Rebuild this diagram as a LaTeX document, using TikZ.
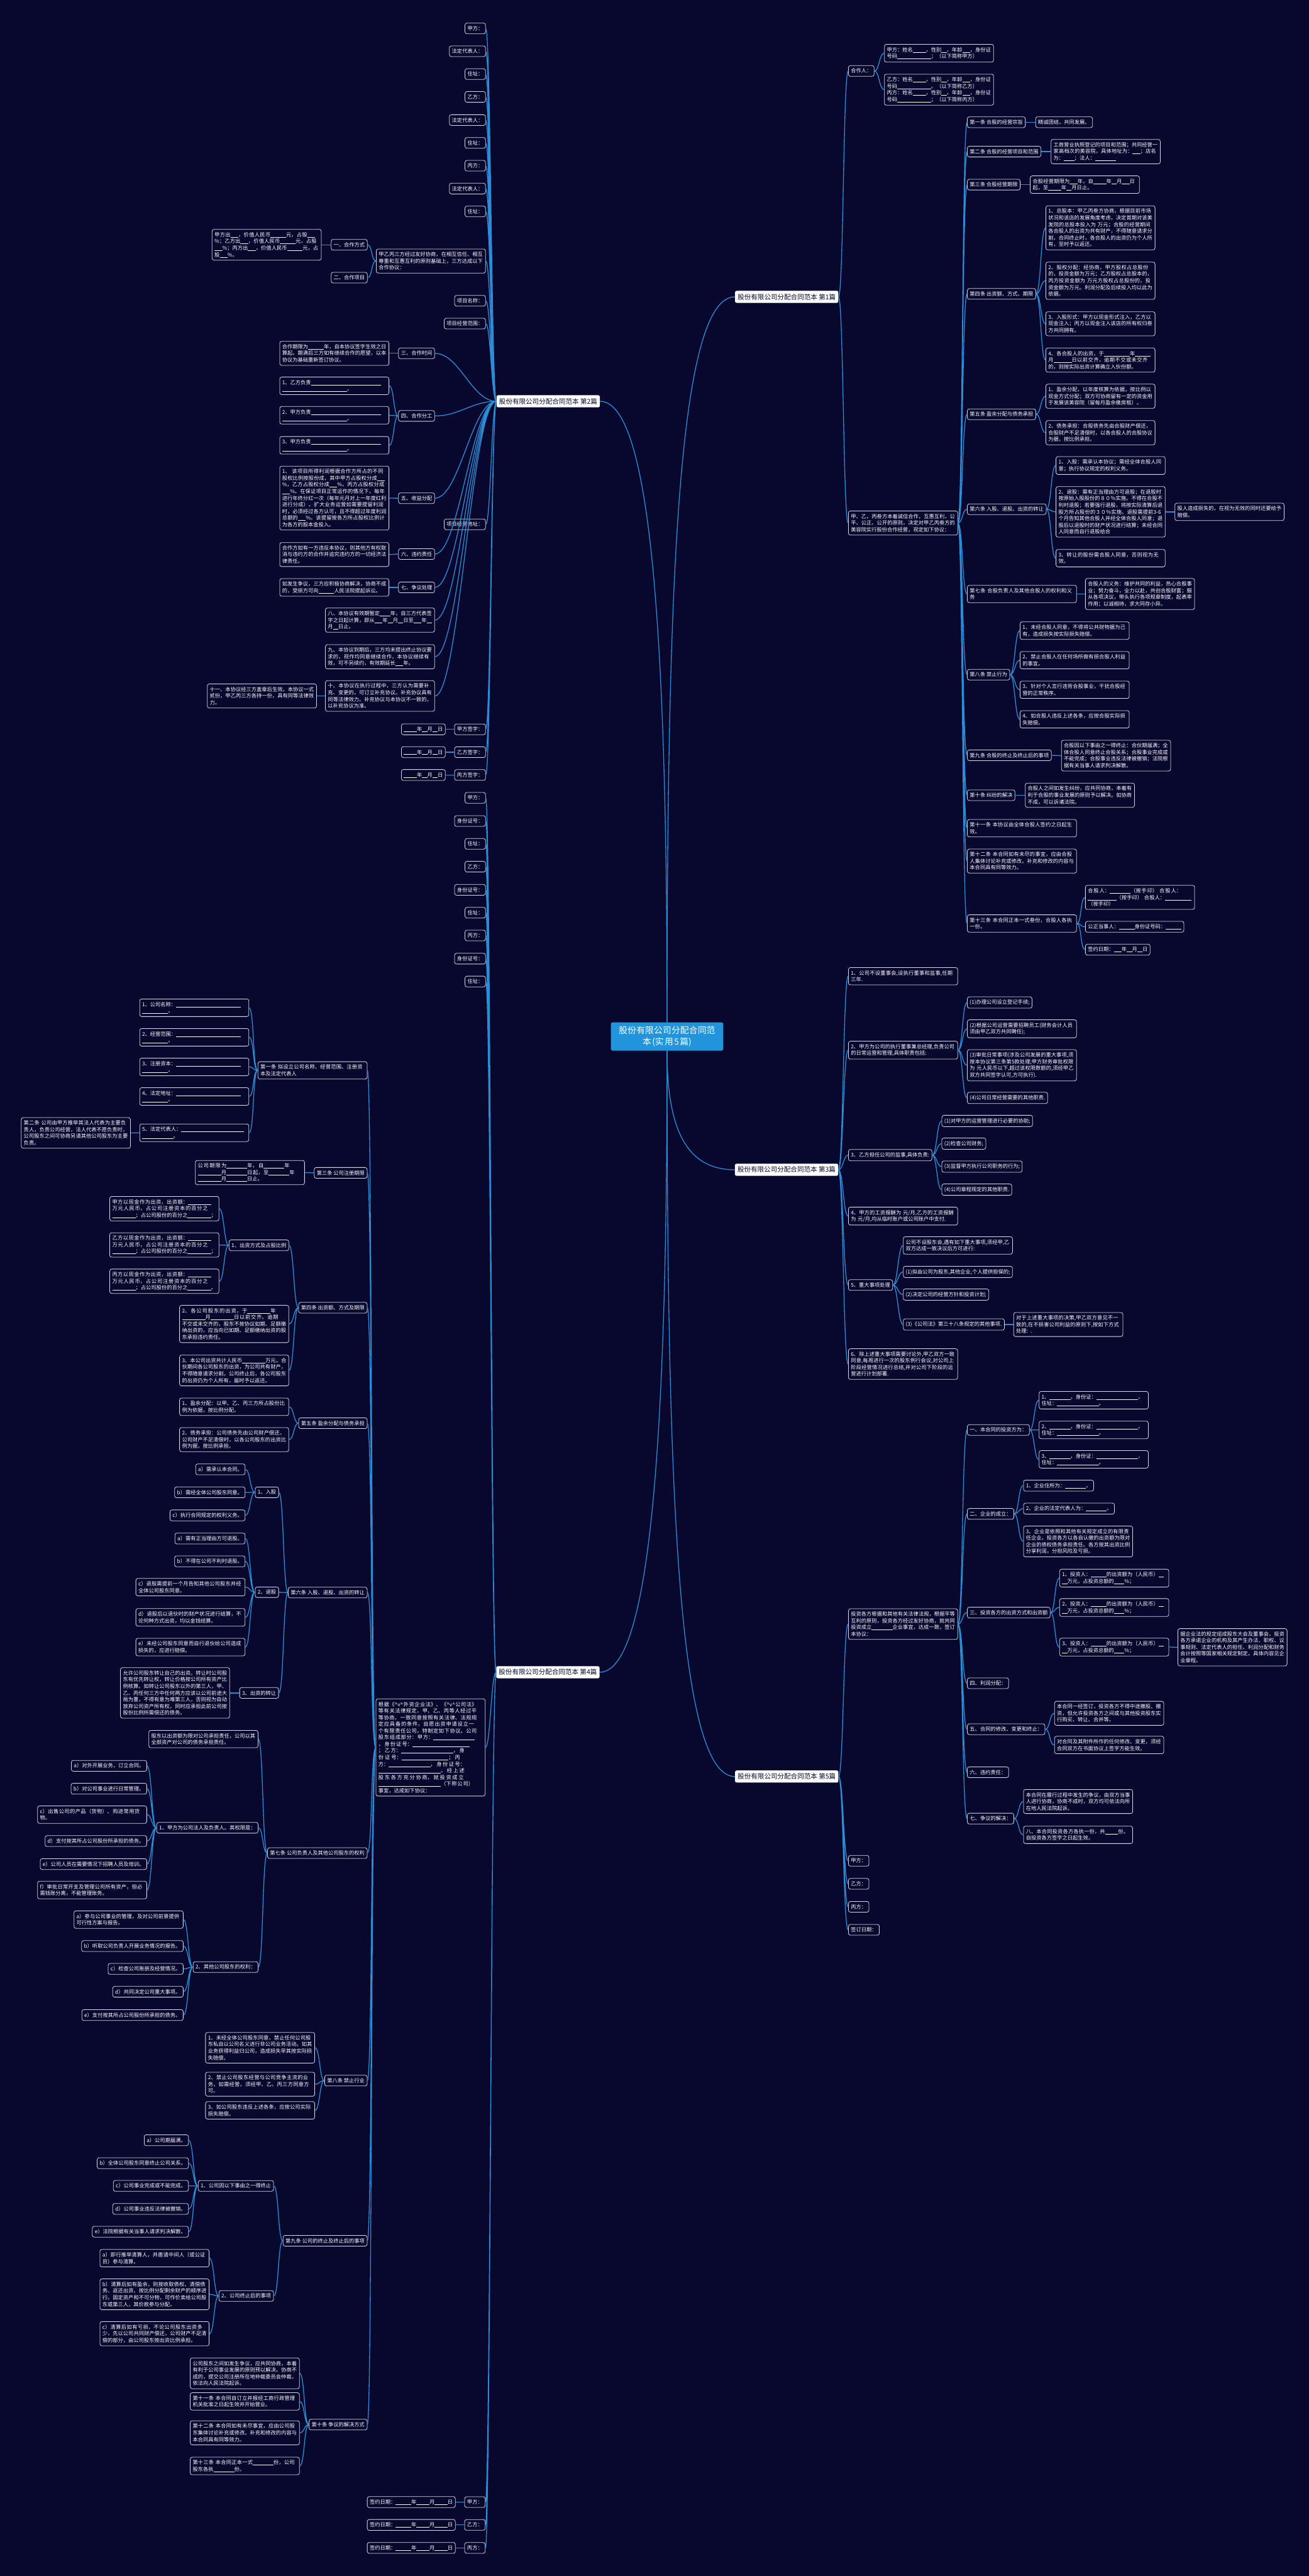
\documentclass[tikz,border=0pt]{standalone}
\usepackage{fontspec}
\setmainfont{Noto Sans CJK SC}
\XeTeXlinebreaklocale "zh"
\XeTeXlinebreakskip=0pt plus 1pt
\definecolor{bgc}{RGB}{8,7,46}
\definecolor{linkc}{RGB}{44,140,212}
\definecolor{rootc}{RGB}{34,148,219}
\definecolor{edgec}{RGB}{218,218,228}
\newcommand\bk[1]{\allowbreak\rule[-0.12em]{\dimexpr0.5em*#1\relax}{0.06em}\allowbreak}
\tikzset{
  leaf/.style={draw=edgec, line width=0.3mm, rounded corners=1.2mm, fill=bgc, text=white,
    inner xsep=1.5mm, inner ysep=1.8mm, font=\fontsize{9}{11.5}\selectfont},
  wide/.style={leaf, text width=63.5mm, align=left},
  topic/.style={fill=white, text=bgc, rounded corners=1mm, inner xsep=1.6mm, inner ysep=1.8mm,
    font=\fontsize{11.5}{14}\selectfont},
  rootnode/.style={fill=rootc, text=white, rounded corners=1mm, text width=62mm, align=center,
    inner xsep=3.2mm, inner ysep=2.5mm, font=\fontsize{15}{19}\selectfont},
  link/.style={draw=linkc, line width=0.5mm},
  rl/.style={to path={.. controls +(#1,0) and +(-#1,0) .. (\tikztotarget)}},
  rl/.default=3,
  ll/.style={to path={.. controls +(-#1,0) and +(#1,0) .. (\tikztotarget)}},
  ll/.default=3
}
\begin{document}
\begin{tikzpicture}[x=1mm, y=-1mm]
    \useasboundingbox (0,0) rectangle (797,1568.2);
    \fill[bgc] (0,0) rectangle (797,1568.2);

    % Root
    \node[rootnode] (r) at (406.2,631) {股份有限公司分配合同范\\本(实用5篇)};

    % 第1篇 (right, top)
    \node[topic, anchor=east] (a) at (510.6,180.7) {股份有限公司分配合同范本 第1篇};
    \node[leaf, anchor=west] (a1) at (516.5,43.2) {合作人：};
    \node[wide, anchor=west] (a1a) at (538.4,32.4) {甲方：姓名\bk5，性别\bk2，年龄\bk3，身份证号码\bk{13}；（以下简称甲方）};
    \node[wide, anchor=west] (a1b) at (538.4,54.6) {乙方：姓名\bk5，性别\bk2，年龄\bk3，身份证号码\bk{13}。（以下简称乙方）\\丙方：姓名\bk5，性别\bk2，年龄\bk3，身份证号码\bk{13}；（以下简称丙方）};
    \node[wide, anchor=west] (a2) at (516.5,318.4) {甲、乙，丙叁方本着诚信合作，互惠互利，公平、公正、公开的原则，决定对甲乙丙叁方的美容院实行股份合作经营，现定如下协议：};

    \node[leaf, anchor=west] (a2s1) at (588.9,74.4) {第一条 合股的经营宗旨};
    \node[leaf, anchor=west] (a2s1c) at (630.5,74.4) {精诚团结，共同发展。};
    \node[leaf, anchor=west] (a2s2) at (588.9,92.3) {第二条 合股的经营项目和范围};
    \node[wide, anchor=west] (a2s2c) at (639.9,92.3) {工商营业执照登记的项目和范围；共同经营一家高档次的美容院，具体地址为：\bk3；店名为：\bk4；法人：\bk8};
    \node[leaf, anchor=west] (a2s3) at (588.9,112.4) {第三条 合股经营期限};
    \node[wide, anchor=west] (a2s3c) at (627.2,112.4) {合股经营期限为\bk3年，自\bk5年\bk2月\bk3日起，至\bk5年\bk2月日止。};
    \node[leaf, anchor=west] (a2s4) at (588.9,178.9) {第四条 出资额、方式、期限};
    \node[wide, anchor=west] (a2s4a) at (636.7,138.7) {1、总股本：甲乙丙叁方协商，根据目前市场状况和该店的发展角度考虑，决定首期对该美发院的总股本投入为 万元；合股的经营期间各合股人的出资为共有财产，不得随意请求分割，合同终止时，各合股人的出资仍为个人所有，至时予以返还。};
    \node[wide, anchor=west] (a2s4b) at (636.7,170.9) {2、股权分配：经协商，甲方股权占总股份的，投资金额为万元；乙方股权占总股本的，丙方投资金额为 万元方股权占总股份的，投资金额为万元。利润分配及后续投入均以此为依据。};
    \node[wide, anchor=west] (a2s4c) at (636.7,197.1) {3、入股形式：甲方以现金形式注入，乙方以现金注入；丙方以现金注入该店的所有权归叁方共同拥有。};
    \node[wide, anchor=west] (a2s4d) at (636.7,219.2) {4、各合股人的出资，于\bk{10}年\bk6月\bk7日以前交齐，逾期不交或未交齐的，则按实际出资计算确立入伙份额。};
    \node[leaf, anchor=west] (a2s5) at (588.9,252.2) {第五条 盈余分配与债务承担};
    \node[wide, anchor=west] (a2s5a) at (636.7,241.2) {1、盈余分配，以年度核算为依据，按比例以现金方式分配；双方可协商留有一定的资金用于发展该美容院（留每月盈余缴房租）。};
    \node[wide, anchor=west] (a2s5b) at (636.7,263.4) {2、债务承担：合股债务先由合股财产偿还，合股财产不足清偿时，以各合股人的合股协议为据，按比例承担。};
    \node[leaf, anchor=west] (a2s6) at (588.9,310) {第六条 入股、退股、出资的转让};
    \node[wide, anchor=west] (a2s6a) at (642.9,283.4) {1、入股：需承认本协议；需经全体合股人同意；执行协议规定的权利义务。};
    \node[wide, anchor=west] (a2s6b) at (642.9,311.6) {2、退股：需有正当理由方可退股；在退股时按原始入股股份的８０％实施。不得在合股不利时退股；若要强行退股，将按实际清算后退股方所占股份的３０％实施。退股需提前3-6个月告知其他合股人并经全体合股人同意；退股后以退股时的财产状况进行结算；未经合同人同意而自行退股给合};
    \node[wide, anchor=west] (a2s6bx) at (715.3,311.6) {股人造成损失的，在视为无效的同时还要给予赔偿。};
    \node[wide, anchor=west] (a2s6c) at (642.9,339.8) {3、转让的股份需合股人同意，否则视为无效。};
    \node[wide, anchor=west] (a2s7) at (588.9,361.6) {第七条 合股负责人及其他合股人的权利和义务};
    \node[wide, anchor=west] (a2s7c) at (660.8,361.6) {合股人的义务：维护共同的利益，热心合股事业；努力奋斗，全力以赴，共创合股财富；服从各项决议，带头执行各项规章制度，起表率作用；以诚相待，求大同存小异。};
    \node[leaf, anchor=west] (a2s8) at (588.9,410.7) {第八条 禁止行为};
    \node[wide, anchor=west] (a2s8a) at (621,383.9) {1、未经合股人同意，不得将公共财物据为己有，造成损失按实际损失赔偿。};
    \node[wide, anchor=west] (a2s8b) at (621,401.9) {2、禁止合股人在任何场所做有损合股人利益的事宜。};
    \node[wide, anchor=west] (a2s8c) at (621,419.9) {3、针对个人言行违背合股事业，干扰合股经营的正常秩序。};
    \node[wide, anchor=west] (a2s8d) at (621,437.9) {4、如合股人违反上述各条，应按合股实际损失赔偿。};
    \node[leaf, anchor=west] (a2s9) at (588.9,459.8) {第九条 合股的终止及终止后的事项};
    \node[wide, anchor=west] (a2s9c) at (646.2,460) {合股因以下事由之一得终止：合伙期届满；全体合股人同意终止合股关系；合股事业完成或不能完成；合股事业违反法律被撤销；法院根据有关当事人请求判决解散。};
    \node[leaf, anchor=west] (a2s10) at (588.9,484.1) {第十条 纠纷的解决};
    \node[wide, anchor=west] (a2s10c) at (624.2,484.1) {合股人之间如发生纠纷，应共同协商，本着有利于合股的事业发展的原则予以解决。如协商不成，可以诉诸法院。};
    \node[wide, anchor=west] (a2s11) at (588.9,504.2) {第十一条 本协议由全体合股人签约之日起生效。};
    \node[wide, anchor=west] (a2s12) at (588.9,524.2) {第十二条 本合同如有未尽的事宜，应由合股人集体讨论补充或修改。补充和修改的内容与本合同具有同等效力。};
    \node[wide, anchor=west] (a2s13) at (588.9,562.2) {第十三条 本合同正本一式叁份，合股人各执一份。};
    \node[wide, anchor=west] (a2s13a) at (660.8,546.3) {合股人：\bk8（按手印） 合股人：\bk{11}（按手印） 合股人：\bk{10}（按手印）};
    \node[leaf, anchor=west] (a2s13b) at (660.8,564.2) {公正当事人：\bk6身份证号码：\bk6};
    \node[leaf, anchor=west] (a2s13c) at (660.8,578.1) {签约日期：\bk3年\bk2月\bk2日};

    % 第2篇 (left, top)
    \node[topic, anchor=west] (b) at (302.3,244.3) {股份有限公司分配合同范本 第2篇};
    \node[leaf, anchor=east] (b1) at (295.8,17.3) {甲方：};
    \node[leaf, anchor=east] (b2) at (295.8,31.2) {法定代表人：};
    \node[leaf, anchor=east] (b3) at (295.8,45.1) {住址：};
    \node[leaf, anchor=east] (b4) at (295.8,59) {乙方：};
    \node[leaf, anchor=east] (b5) at (295.8,73.1) {法定代表人：};
    \node[leaf, anchor=east] (b6) at (295.8,87) {住址：};
    \node[leaf, anchor=east] (b7) at (295.8,100.9) {丙方：};
    \node[leaf, anchor=east] (b8) at (295.8,114.8) {法定代表人：};
    \node[leaf, anchor=east] (b9) at (295.8,128.7) {住址：};
    \node[wide, anchor=east] (b10) at (295.8,158.9) {甲乙丙三方经过友好协商，在相互信任、相互尊重和互惠互利的原则基础上，三方达成以下合作协议：};
    \node[leaf, anchor=east] (b10a) at (223.8,149) {一、合作方式};
    \node[wide, anchor=east] (b10ax) at (195.8,149) {甲方出\bk3，价值人民币\bk6元，占股\bk3\%；乙方出\bk3，价值人民币\bk6元，占股\bk3\%；丙方出\bk3，价值人民币\bk6元，占股\bk3\%。};
    \node[leaf, anchor=east] (b10b) at (223.8,169) {二、合作项目};
    \node[leaf, anchor=east] (b11) at (295.8,183.1) {项目名称：};
    \node[leaf, anchor=east] (b12) at (295.8,197) {项目经营范围：};
    \node[leaf, anchor=east] (b13) at (264.8,215.1) {三、合作时间};
    \node[wide, anchor=east] (b13x) at (237,215.1) {合作期限为\bk6年，自本协议签字生效之日算起。期满后三方如有继续合作的愿望，以本协议为基础重新签订协议。};
    \node[leaf, anchor=east] (b14) at (264.8,253.2) {四、合作分工};
    \node[wide, anchor=east] (b14a) at (237,234.9) {1、乙方负责\bk{27}\\\bk{25}。};
    \node[wide, anchor=east] (b14b) at (237,252.8) {2、甲方负责\bk{27}\\\bk{25}。};
    \node[wide, anchor=east] (b14c) at (237,271.1) {3、甲方负责\bk{27}\\\bk{25}。};
    \node[leaf, anchor=east] (b15) at (264.8,303.3) {五、收益分配};
    \node[wide, anchor=east] (b15x) at (237,303.2) {1、 该项目所得利润根据合作方所占的不同股权比例按股份成，其中甲方占股权分成\bk3\%，乙方占股权分成\bk3\%，丙方占股权分成\bk3\%。在保证项目正常运作的情况下，每年进行年终分红一次（每年元月对上一年度红利进行分成）。扩大业务运营如需要提留利润时，必须经过各方认可，且不得超过年度利润总额的\bk3\%。该提留按各方所占股权比例计为各方的股本金投入。};
    \node[leaf, anchor=east] (b16) at (295.8,319.2) {项目经营地址：};
    \node[leaf, anchor=east] (b17) at (264.8,337.3) {六、违约责任};
    \node[wide, anchor=east] (b17x) at (237,337.6) {合作方如有一方违反本协议，则其他方有权取消与违约方的合作并追究违约方的一切经济法律责任。};
    \node[leaf, anchor=east] (b18) at (264.8,357.6) {七、争议处理};
    \node[wide, anchor=east] (b18x) at (237,357.6) {如发生争议，三方应积极协商解决，协商不成的，受损方可向\bk6人民法院提起诉讼。};
    \node[wide, anchor=east] (b19) at (264.8,377.5) {八、本协议有效期暂定\bk4年，自三方代表签字之日起计算，即从\bk3年\bk2月\bk2日至\bk3年\bk2月\bk2日止。};
    \node[wide, anchor=east] (b20) at (264.8,399.8) {九、本协议到期后，三方均未提出终止协议要求的，视作均同意继续合作，本协议继续有效，可不另续约，有效期延长\bk3年。};
    \node[wide, anchor=east] (b21) at (264.8,423.7) {十、本协议在执行过程中，三方认为需要补充、变更的，可订立补充协议。补充协议具有同等法律效力。补充协议与本协议不一致的，以补充协议为准。};
    \node[wide, anchor=east] (b21x) at (192.9,423.7) {十一、本协议经三方盖章后生效。本协议一式贰份，甲乙丙三方各持一份，具有同等法律效力。};
    \node[leaf, anchor=east] (b22) at (295.8,444) {甲方签字：};
    \node[leaf, anchor=east] (b22x) at (271.3,444) {\bk5年\bk2月\bk2日};
    \node[leaf, anchor=east] (b23) at (295.8,457.9) {乙方签字：};
    \node[leaf, anchor=east] (b23x) at (271.3,457.9) {\bk5年\bk2月\bk2日};
    \node[leaf, anchor=east] (b24) at (295.8,471.8) {丙方签字：};
    \node[leaf, anchor=east] (b24x) at (271.3,471.8) {\bk5年\bk2月\bk2日};

    % 第3篇 (right, middle)
    \node[topic, anchor=east] (c) at (510.5,712.1) {股份有限公司分配合同范本 第3篇};
    \node[wide, anchor=west] (c1) at (516.5,594.3) {1、公司不设董事会,设执行董事和监事,任期三年.};
    \node[wide, anchor=west] (c2) at (516.5,639.3) {2、甲方为公司的执行董事兼总经理,负责公司的日常运营和管理,具体职责包括:};
    \node[leaf, anchor=west] (c2a) at (588.9,610.3) {(1)办理公司设立登记手续;};
    \node[wide, anchor=west] (c2b) at (588.9,626.3) {(2)根据公司运营需要招聘员工(财务会计人员须由甲乙双方共同聘任);};
    \node[wide, anchor=west] (c2c) at (588.9,648.5) {(3)审批日常事项(涉及公司发展的重大事项,须按本协议第三条第5款处理;甲方财务审批权限为 元人民币以下,超过该权限数额的,须经甲乙双方共同签字认可,方可执行).};
    \node[leaf, anchor=west] (c2d) at (588.9,668.4) {(4)公司日常经营需要的其他职责.};
    \node[leaf, anchor=west] (c3) at (516.5,703.2) {3、乙方担任公司的监事,具体负责:};
    \node[leaf, anchor=west] (c3a) at (573.4,682.4) {(1)对甲方的运营管理进行必要的协助;};
    \node[leaf, anchor=west] (c3b) at (573.4,696.2) {(2)检查公司财务;};
    \node[leaf, anchor=west] (c3c) at (573.4,710.2) {(3)监督甲方执行公司职务的行为;};
    \node[leaf, anchor=west] (c3d) at (573.4,724.2) {(4)公司章程规定的其他职责.};
    \node[wide, anchor=west] (c4) at (516.5,740.3) {4、甲方的工资报酬为 元/月,乙方的工资报酬为 元/月,均从临时账户或公司账户中支付.};
    \node[leaf, anchor=west] (c5) at (516.5,782.3) {5、重大事项处理};
    \node[wide, anchor=west] (c5a) at (549.9,758.2) {公司不设股东会,遇有如下重大事项,须经甲,乙双方达成一致决议后方可进行:};
    \node[leaf, anchor=west] (c5b) at (549.9,774.3) {(1)拟由公司为股东,其他企业,个人提供担保的;};
    \node[leaf, anchor=west] (c5c) at (549.9,788.1) {(2)决定公司的经营方针和投资计划;};
    \node[leaf, anchor=west] (c5d) at (549.9,806.3) {(3)《公司法》第三十八条规定的其他事项.};
    \node[wide, anchor=west] (c5dx) at (617.1,806.3) {对于上述重大事项的决策,甲乙双方意见不一致的,在不损害公司利益的原则下,按如下方式处理: .};
    \node[wide, anchor=west] (c6) at (516.5,830.4) {6、除上述重大事项需要讨论外,甲乙双方一致同意,每周进行一次的股东例行会议,对公司上阶段经营情况进行总结,并对公司下阶段的运营进行计划部署.};

    % 第4篇 (left, bottom)
    \node[topic, anchor=west] (d) at (302.1,1018) {股份有限公司分配合同范本 第4篇};
    \node[leaf, anchor=east] (d1) at (295.8,485.7) {甲方：};
    \node[leaf, anchor=east] (d2) at (295.8,499.8) {身份证号：};
    \node[leaf, anchor=east] (d3) at (295.8,513.7) {住址：};
    \node[leaf, anchor=east] (d4) at (295.8,527.6) {乙方：};
    \node[leaf, anchor=east] (d5) at (295.8,541.7) {身份证号：};
    \node[leaf, anchor=east] (d6) at (295.8,555.6) {住址：};
    \node[leaf, anchor=east] (d7) at (295.8,569.5) {丙方：};
    \node[leaf, anchor=east] (d8) at (295.8,583.6) {身份证号：};
    \node[leaf, anchor=east] (d9) at (295.8,597.5) {住址：};
    \node[wide, anchor=east] (d10) at (295.6,1063.8) {根据《\textasciicircum v\textasciicircum 外资企业法》、《\textasciicircum v\textasciicircum 公司法》等有关法律规定，甲、乙、丙等人经过平等协商，一致同意按照有关法律、法规规定应具备的条件，自愿出资申请设立一个有限责任公司，特制定如下协议。公司股东组成部分：甲方：\bk{16}，身份证号：\bk{22}；乙方：\bk{20}，身份证号：\bk{18}；丙方：\bk{16}，身份证号：\bk{24}。经上述股东各方充分协商，就投资成立\bk{24}（下称公司）事宜，达成如下协议：};
    \node[leaf, anchor=east] (d11) at (295.6,1523.2) {甲方：};
    \node[leaf, anchor=east] (d11x) at (277.4,1523.2) {签约日期：\bk6年\bk5月\bk5日};
    \node[leaf, anchor=east] (d12) at (295.6,1537.1) {乙方：};
    \node[leaf, anchor=east] (d12x) at (277.4,1537.1) {签约日期：\bk6年\bk5月\bk5日};
    \node[leaf, anchor=east] (d13) at (295.6,1551.1) {丙方：};
    \node[leaf, anchor=east] (d13x) at (277.4,1551.1) {签约日期：\bk6年\bk5月\bk5日};

    \node[wide, anchor=east] (s1) at (223.7,651.6) {第一条 拟设立公司名称、经营范围、注册资本及法定代表人};
    \node[wide, anchor=east] (s1a) at (151.7,613.5) {1、公司名称：\bk{25}\\\bk{10}。};
    \node[wide, anchor=east] (s1b) at (151.7,631.5) {2、经营范围：\bk{25}\\\bk{10}。};
    \node[wide, anchor=east] (s1c) at (151.7,649.5) {3、注册资本：\bk{25}\\\bk{10}。};
    \node[wide, anchor=east] (s1d) at (151.7,667.5) {4、法定地址：\bk{25}\\\bk{10}。};
    \node[wide, anchor=east] (s1e) at (151.7,689.6) {5、法定代表人：\bk{24}\\\bk{12}。};
    \node[wide, anchor=east] (s1ex) at (79.6,689.7) {第二条 公司由甲方推举其法人代表为主要负责人，负责公司经营，法人代表不愿负责时，公司股东之间可协商另请其他公司股东为主要负责。};
    \node[leaf, anchor=east] (s3) at (223.7,714) {第三条 公司注册期限};
    \node[wide, anchor=east] (s3x) at (185.6,713.8) {公司期限为\bk8年，自\bk8年\bk9月\bk8日起，至\bk8年\bk9月\bk8日止。};
    \node[leaf, anchor=east] (s4) at (223.7,796.1) {第四条 出资额、方式及期限};
    \node[leaf, anchor=east] (s4a) at (176,758.1) {1、出资方式及占股比例};
    \node[wide, anchor=east] (s4a1) at (133.5,735.8) {甲方以现金作为出资，出资额：\bk9万元人民币，占公司注册资本的百分之\bk9；占公司股份的百分之\bk9；};
    \node[wide, anchor=east] (s4a2) at (133.5,757.9) {乙方以现金作为出资，出资额：\bk9万元人民币，占公司注册资本的百分之\bk9；占公司股份的百分之\bk9；};
    \node[wide, anchor=east] (s4a3) at (133.5,780) {丙方以现金作为出资，出资额：\bk9万元人民币，占公司注册资本的百分之\bk9；占公司股份的百分之\bk9。};
    \node[wide, anchor=east] (s4b) at (176,806) {2、各公司股东的出资，于\bk9年\bk9月\bk9日以前交齐。逾期不交或未交齐的，股东不按协议如期、足额缴纳出资的，应当向已如期、足额缴纳出资的股东承担违约责任。};
    \node[wide, anchor=east] (s4c) at (176,834.3) {3、本公司出资共计人民币\bk9万元。合伙期间各公司股东的出资，为公司共有财产，不得随意请求分割。公司终止后，各公司股东的出资仍为个人所有，届时予以返还。};
    \node[leaf, anchor=east] (s5) at (223.7,866.4) {第五条 盈余分配与债务承担};
    \node[wide, anchor=east] (s5a) at (176,856.4) {1、盈余分配：以甲、乙、丙三方所占股份比例为依据，按比例分配。};
    \node[wide, anchor=east] (s5b) at (176,876.4) {2、债务承担：公司债务先由公司财产偿还，公司财产不足清偿时，以各公司股东的出资比例为据，按比例承担。};
    \node[leaf, anchor=east] (s6) at (223.7,969.5) {第六条 入股、退股、出资的转让};
    \node[leaf, anchor=east] (s6a) at (169.8,908.5) {1、入股};
    \node[leaf, anchor=east] (s6a1) at (149.4,894.5) {a）需承认本合同。};
    \node[leaf, anchor=east] (s6a2) at (149.4,908.5) {b）需经全体公司股东同意。};
    \node[leaf, anchor=east] (s6a3) at (149.4,922.5) {c）执行合同规定的权利义务。};
    \node[leaf, anchor=east] (s6b) at (169.8,969.3) {2、退股};
    \node[leaf, anchor=east] (s6b1) at (149.4,936.6) {a）需有正当理由方可退股。};
    \node[leaf, anchor=east] (s6b2) at (149.4,950.5) {b）不得在公司不利时退股。};
    \node[wide, anchor=east] (s6b3) at (149.4,966.2) {c）退股需提前一个月告知其他公司股东并经全体公司股东同意。};
    \node[wide, anchor=east] (s6b4) at (149.4,984.6) {d）退股后以退伙时的财产状况进行结算，不论何种方式出资，均以金钱结算。};
    \node[wide, anchor=east] (s6b5) at (149.4,1002.7) {e）未经公司股东同意而自行退伙给公司造成损失的，应进行赔偿。};
    \node[leaf, anchor=east] (s6c) at (169.8,1030.6) {3、出资的转让};
    \node[wide, anchor=east] (s6cx) at (140,1030.6) {允许公司股东转让自己的出资。转让时公司股东有优先转让权，转让价格按公司所有资产比例核算。如转让公司股东以外的第三人，甲、乙、丙任何三方中任何两方应该以公司前途大局为重，不得有意为难第三人，否则视为自动放弃公司资产所有权，同时应承担此前公司按股份比例所需偿还的债务。};
    \node[leaf, anchor=east] (s7) at (223.7,1128.1) {第七条 公司负责人及其他公司股东的权利};
    \node[wide, anchor=east] (s7a) at (157.3,1058.7) {股东以出资额为限对公司承担责任，公司以其全部资产对公司的债务承担责任。};
    \node[leaf, anchor=east] (s7b) at (157.3,1112.7) {1、甲方为公司法人及负责人。其权限是：};
    \node[leaf, anchor=east] (s7b1) at (89.5,1075) {a）对外开展业务，订立合同。};
    \node[leaf, anchor=east] (s7b2) at (89.5,1088.9) {b）对公司事业进行日常管理。};
    \node[wide, anchor=east] (s7b3) at (89.5,1104.7) {c）出售公司的产品（货物）、购进常用货物。};
    \node[leaf, anchor=east] (s7b4) at (89.5,1120.8) {d）支付按其所占公司股份所承担的债务。};
    \node[leaf, anchor=east] (s7b5) at (89.5,1134.8) {e）公司人员在需要情况下招聘人员及培训。};
    \node[wide, anchor=east] (s7b6) at (89.5,1150.6) {f）审批日常开支及管理公司所有资产，但必需钱账分离，不能管理账务。};
    \node[leaf, anchor=east] (s7c) at (157.3,1197.5) {2、其他公司股东的权利：};
    \node[wide, anchor=east] (s7c1) at (111.7,1168.6) {a）参与公司事业的管理，及对公司前景提供可行性方案与报告。};
    \node[leaf, anchor=east] (s7c2) at (111.7,1184.7) {b）听取公司负责人开展业务情况的报告。};
    \node[leaf, anchor=east] (s7c3) at (111.7,1198.6) {c）检查公司账册及经营情况。};
    \node[leaf, anchor=east] (s7c4) at (111.7,1212.5) {d）共同决定公司重大事项。};
    \node[leaf, anchor=east] (s7c5) at (111.7,1226.7) {e）支付按其所占公司股份所承担的债务。};
    \node[leaf, anchor=east] (s8) at (223.7,1266.6) {第八条 禁止行业};
    \node[wide, anchor=east] (s8a) at (191.8,1246.6) {1、未经全体公司股东同意，禁止任何公司股东私自以公司名义进行非公司业务活动。如其业务获得利益归公司，造成损失早其按实际损失赔偿。};
    \node[wide, anchor=east] (s8b) at (191.8,1268.8) {2、禁止公司股东经营与公司竞争主流的业务，如需经营，须经甲、乙、丙三方同意方可。};
    \node[wide, anchor=east] (s8c) at (191.8,1284.7) {3、如公司股东违反上述各条，应按公司实际损失赔偿。};
    \node[leaf, anchor=east] (s9) at (223.7,1364.1) {第九条 公司的终止及终止后的事项};
    \node[leaf, anchor=east] (s9a) at (166.7,1330.7) {1、公司因以下事由之一得终止};
    \node[leaf, anchor=east] (s9a1) at (114.9,1302.9) {a）公司期届满。};
    \node[leaf, anchor=east] (s9a2) at (114.9,1316.9) {b）全体公司股东同意终止公司关系。};
    \node[leaf, anchor=east] (s9a3) at (114.9,1330.7) {c）公司事业完成或不能完成。};
    \node[leaf, anchor=east] (s9a4) at (114.9,1344.7) {d）公司事业违反法律被撤销。};
    \node[leaf, anchor=east] (s9a5) at (114.9,1358.6) {e）法院根据有关当事人请求判决解散。};
    \node[leaf, anchor=east] (s9b) at (166.7,1397.7) {2、公司终止后的事项};
    \node[wide, anchor=east] (s9b1) at (127.5,1374.7) {a）即行推举清算人，并邀请中间人（或公证员）参与清算。};
    \node[wide, anchor=east] (s9b2) at (127.5,1396.7) {b）清算后如有盈余，则按收取债权、清偿债务、返还出资、按比例分配剩余财产的顺序进行。固定资产和不可分物，可作价卖给公司股东或第三人，其价款参与分配。};
    \node[wide, anchor=east] (s9b3) at (127.5,1420.7) {c）清算后如有亏损，不论公司股东出资多少，先以公司共同财产偿还，公司财产不足清偿的部分，由公司股东按出资比例承担。};
    \node[leaf, anchor=east] (s10) at (223.7,1476) {第十条 争议的解决方式};
    \node[wide, anchor=east] (s10a) at (182.5,1444.8) {公司股东之间如发生争议，应共同协商，本着有利于公司事业发展的原则预以解决。协商不成的，提交公司注册所在地仲裁委员会仲裁，依法向人民法院起诉。};
    \node[wide, anchor=east] (s10b) at (182.5,1461.9) {第十一条 本合同自订立并报经工商行政管理机关批准之日起生效并开始营业。};
    \node[wide, anchor=east] (s10c) at (182.5,1481) {第十二条 本合同如有未尽事宜，应由公司股东集体讨论补充或修改。补充和修改的内容与本合同具有同等效力。};
    \node[wide, anchor=east] (s10d) at (182.5,1501.2) {第十三条 本合同正本一式\bk8份，公司股东各执\bk8份。};

    % 第5篇 (right, bottom)
    \node[topic, anchor=east] (e) at (510.6,1081.5) {股份有限公司分配合同范本 第5篇};
    \node[wide, anchor=west] (e1) at (516.5,988.7) {投资各方根据和其他有关法律法规，根据平等互利的原则，投资各方经过友好协商，就共同投资成立\bk8企业事宜，达成一致，签订本协议：};
    \node[leaf, anchor=west] (e1a) at (588.9,870.5) {一、本合同的投资方为：};
    \node[wide, anchor=west] (e1a1) at (632.6,852.4) {1、\bk8，身份证：\bk{16}，\\住址：\bk{16}。};
    \node[wide, anchor=west] (e1a2) at (632.6,870.5) {2、\bk8，身份证：\bk{16}，\\住址：\bk{16}。};
    \node[wide, anchor=west] (e1a3) at (632.6,888.4) {3、\bk8，身份证：\bk{16}，\\住址：\bk{16}。};
    \node[leaf, anchor=west] (e1b) at (588.9,921.6) {二、企业的成立：};
    \node[leaf, anchor=west] (e1b1) at (623.1,904.4) {1、企业住所为：\bk8。};
    \node[leaf, anchor=west] (e1b2) at (623.1,918.4) {2、企业的法定代表人为：\bk8。};
    \node[wide, anchor=west] (e1b3) at (623.1,938.4) {3、企业是依照和其他有关规定成立的有限责任企业。投资各方以各自认缴的出资额为限对企业的债权债务承担责任。各方按其出资比例分享利润，分担风险及亏损。};
    \node[leaf, anchor=west] (e1c) at (588.9,981.7) {三、投资各方的出资方式和出资额};
    \node[wide, anchor=west] (e1c1) at (645.1,960.7) {1、投资人：\bk6的出资额为（人民币）\bk2\\\bk2万元，占投资总额的\bk4\%；};
    \node[wide, anchor=west] (e1c2) at (645.1,978.6) {2、投资人：\bk6的出资额为（人民币）\bk2\\\bk2万元，占投资总额的\bk4\%；};
    \node[wide, anchor=west] (e1c3) at (645.1,1002.7) {3、投资人：\bk6的出资额为（人民币）\bk2\\\bk2万元，占投资总额的\bk4\%；};
    \node[wide, anchor=west] (e1c3x) at (717.1,1002.8) {据企业法的规定组成股东大会及董事会，投资各方承诺企业的机构及其产生办法、职权、议事规则、法定代表人的担任、利润分配和财务会计按照等国家相关规定制定。具体内容见企业章程。};
    \node[leaf, anchor=west] (e1d) at (588.9,1024.7) {四、利润分配：};
    \node[leaf, anchor=west] (e1e) at (588.9,1052.7) {五、合同的修改、变更和终止：};
    \node[wide, anchor=west] (e1e1) at (642,1043) {本合同一经签订，投资各方不得中途撤股、撤资，但允许投资各方之间或与其他投资股东实行购买、转让、合并等。};
    \node[wide, anchor=west] (e1e2) at (642,1062.3) {对合同及其附件所作的任何修改、变更，须经合同双方在书面协议上签字方能生效。};
    \node[leaf, anchor=west] (e1f) at (588.9,1078.9) {六、违约责任：};
    \node[leaf, anchor=west] (e1g) at (588.9,1107.1) {七、争议的解决：};
    \node[wide, anchor=west] (e1g1) at (623.1,1096.7) {本合同在履行过程中发生的争议，由双方当事人进行协商，协商不成时，双方均可依法向所在地人民法院起诉。};
    \node[wide, anchor=west] (e1g2) at (623.1,1117) {八、本合同投资各方各执一份，共\bk5份。自投资各方签字之日起生效。};
    \node[leaf, anchor=west] (e2) at (516.5,1132.8) {甲方：};
    \node[leaf, anchor=west] (e3) at (516.5,1146.8) {乙方：};
    \node[leaf, anchor=west] (e4) at (516.5,1160.8) {丙方：};
    \node[leaf, anchor=west] (e5) at (516.5,1174.8) {签订日期：};

    % Root links
    \draw[link] (r.north) .. controls +(0,-264) and +(-35,0) .. (a.west);
    \draw[link] (r.north) .. controls +(0,-226) and +(32,0) .. (b.east);
    \draw[link] (r.south) .. controls +(0,43) and +(-32,0) .. (c.west);
    \draw[link] (r.south) .. controls +(0,226) and +(32,0) .. (d.east);
    \draw[link] (r.south) .. controls +(0,265) and +(-35,0) .. (e.west);

    % 第1篇 links
    \draw[link] (a.east) to[rl] (a1.west) (a.east) to[rl] (a2.west);
    \draw[link] (a1.east) to[rl] (a1a.west) (a1.east) to[rl] (a1b.west);
    \draw[link] (a2.east) to[rl] (a2s1.west) (a2.east) to[rl] (a2s2.west) (a2.east) to[rl] (a2s3.west)
        (a2.east) to[rl] (a2s4.west) (a2.east) to[rl] (a2s5.west) (a2.east) to[rl] (a2s6.west)
        (a2.east) to[rl] (a2s7.west) (a2.east) to[rl] (a2s8.west) (a2.east) to[rl] (a2s9.west)
        (a2.east) to[rl] (a2s10.west) (a2.east) to[rl] (a2s11.west) (a2.east) to[rl] (a2s12.west)
        (a2.east) to[rl] (a2s13.west);
    \draw[link] (a2s1.east) to[rl] (a2s1c.west);
    \draw[link] (a2s2.east) to[rl] (a2s2c.west);
    \draw[link] (a2s3.east) to[rl] (a2s3c.west);
    \draw[link] (a2s4.east) to[rl] (a2s4a.west) (a2s4.east) to[rl] (a2s4b.west)
        (a2s4.east) to[rl] (a2s4c.west) (a2s4.east) to[rl] (a2s4d.west);
    \draw[link] (a2s5.east) to[rl] (a2s5a.west) (a2s5.east) to[rl] (a2s5b.west);
    \draw[link] (a2s6.east) to[rl] (a2s6a.west) (a2s6.east) to[rl] (a2s6b.west) (a2s6.east) to[rl] (a2s6c.west);
    \draw[link] (a2s6b.east) to[rl] (a2s6bx.west);
    \draw[link] (a2s7.east) to[rl] (a2s7c.west);
    \draw[link] (a2s8.east) to[rl] (a2s8a.west) (a2s8.east) to[rl] (a2s8b.west)
        (a2s8.east) to[rl] (a2s8c.west) (a2s8.east) to[rl] (a2s8d.west);
    \draw[link] (a2s9.east) to[rl] (a2s9c.west);
    \draw[link] (a2s10.east) to[rl] (a2s10c.west);
    \draw[link] (a2s13.east) to[rl] (a2s13a.west) (a2s13.east) to[rl] (a2s13b.west) (a2s13.east) to[rl] (a2s13c.west);

    % 第2篇 links
    \draw[link] (b.west) to[ll] (b1.east) (b.west) to[ll] (b2.east) (b.west) to[ll] (b3.east)
        (b.west) to[ll] (b4.east) (b.west) to[ll] (b5.east) (b.west) to[ll] (b6.east)
        (b.west) to[ll] (b7.east) (b.west) to[ll] (b8.east) (b.west) to[ll] (b9.east)
        (b.west) to[ll] (b10.east) (b.west) to[ll] (b11.east) (b.west) to[ll] (b12.east)
        (b.west) to[ll=15] (b13.east) (b.west) to[ll=15] (b14.east) (b.west) to[ll=15] (b15.east)
        (b.west) to[ll] (b16.east) (b.west) to[ll=15] (b17.east) (b.west) to[ll=15] (b18.east)
        (b.west) to[ll=15] (b19.east) (b.west) to[ll=15] (b20.east) (b.west) to[ll=15] (b21.east)
        (b.west) to[ll] (b22.east) (b.west) to[ll] (b23.east) (b.west) to[ll] (b24.east);
    \draw[link] (b10.west) to[ll] (b10a.east) (b10.west) to[ll] (b10b.east);
    \draw[link] (b10a.west) to[ll] (b10ax.east);
    \draw[link] (b13.west) to[ll] (b13x.east);
    \draw[link] (b14.west) to[ll] (b14a.east) (b14.west) to[ll] (b14b.east) (b14.west) to[ll] (b14c.east);
    \draw[link] (b15.west) to[ll] (b15x.east);
    \draw[link] (b17.west) to[ll] (b17x.east);
    \draw[link] (b18.west) to[ll] (b18x.east);
    \draw[link] (b21.west) to[ll] (b21x.east);
    \draw[link] (b22.west) to[ll] (b22x.east);
    \draw[link] (b23.west) to[ll] (b23x.east);
    \draw[link] (b24.west) to[ll] (b24x.east);

    % 第3篇 links
    \draw[link] (c.east) to[rl] (c1.west) (c.east) to[rl] (c2.west) (c.east) to[rl] (c3.west)
        (c.east) to[rl] (c4.west) (c.east) to[rl] (c5.west) (c.east) to[rl] (c6.west);
    \draw[link] (c2.east) to[rl] (c2a.west) (c2.east) to[rl] (c2b.west) (c2.east) to[rl] (c2c.west) (c2.east) to[rl] (c2d.west);
    \draw[link] (c3.east) to[rl] (c3a.west) (c3.east) to[rl] (c3b.west) (c3.east) to[rl] (c3c.west) (c3.east) to[rl] (c3d.west);
    \draw[link] (c5.east) to[rl] (c5a.west) (c5.east) to[rl] (c5b.west) (c5.east) to[rl] (c5c.west) (c5.east) to[rl] (c5d.west);
    \draw[link] (c5d.east) to[rl] (c5dx.west);

    % 第4篇 links
    \draw[link] (d.west) to[ll] (d1.east) (d.west) to[ll] (d2.east) (d.west) to[ll] (d3.east)
        (d.west) to[ll] (d4.east) (d.west) to[ll] (d5.east) (d.west) to[ll] (d6.east)
        (d.west) to[ll] (d7.east) (d.west) to[ll] (d8.east) (d.west) to[ll] (d9.east)
        (d.west) to[ll] (d10.east) (d.west) to[ll] (d11.east) (d.west) to[ll] (d12.east)
        (d.west) to[ll] (d13.east);
    \draw[link] (d11.west) to[ll] (d11x.east);
    \draw[link] (d12.west) to[ll] (d12x.east);
    \draw[link] (d13.west) to[ll] (d13x.east);
    \draw[link] (d10.west) to[ll] (s1.east) (d10.west) to[ll] (s3.east) (d10.west) to[ll] (s4.east)
        (d10.west) to[ll] (s5.east) (d10.west) to[ll] (s6.east) (d10.west) to[ll] (s7.east)
        (d10.west) to[ll] (s8.east) (d10.west) to[ll] (s9.east) (d10.west) to[ll] (s10.east);
    \draw[link] (s1.west) to[ll] (s1a.east) (s1.west) to[ll] (s1b.east) (s1.west) to[ll] (s1c.east)
        (s1.west) to[ll] (s1d.east) (s1.west) to[ll] (s1e.east);
    \draw[link] (s1e.west) to[ll] (s1ex.east);
    \draw[link] (s3.west) to[ll] (s3x.east);
    \draw[link] (s4.west) to[ll] (s4a.east) (s4.west) to[ll] (s4b.east) (s4.west) to[ll] (s4c.east);
    \draw[link] (s4a.west) to[ll] (s4a1.east) (s4a.west) to[ll] (s4a2.east) (s4a.west) to[ll] (s4a3.east);
    \draw[link] (s5.west) to[ll] (s5a.east) (s5.west) to[ll] (s5b.east);
    \draw[link] (s6.west) to[ll] (s6a.east) (s6.west) to[ll] (s6b.east) (s6.west) to[ll] (s6c.east);
    \draw[link] (s6a.west) to[ll] (s6a1.east) (s6a.west) to[ll] (s6a2.east) (s6a.west) to[ll] (s6a3.east);
    \draw[link] (s6b.west) to[ll] (s6b1.east) (s6b.west) to[ll] (s6b2.east) (s6b.west) to[ll] (s6b3.east)
        (s6b.west) to[ll] (s6b4.east) (s6b.west) to[ll] (s6b5.east);
    \draw[link] (s6c.west) to[ll] (s6cx.east);
    \draw[link] (s7.west) to[ll] (s7a.east) (s7.west) to[ll] (s7b.east) (s7.west) to[ll] (s7c.east);
    \draw[link] (s7b.west) to[ll] (s7b1.east) (s7b.west) to[ll] (s7b2.east) (s7b.west) to[ll] (s7b3.east)
        (s7b.west) to[ll] (s7b4.east) (s7b.west) to[ll] (s7b5.east) (s7b.west) to[ll] (s7b6.east);
    \draw[link] (s7c.west) to[ll] (s7c1.east) (s7c.west) to[ll] (s7c2.east) (s7c.west) to[ll] (s7c3.east)
        (s7c.west) to[ll] (s7c4.east) (s7c.west) to[ll] (s7c5.east);
    \draw[link] (s8.west) to[ll] (s8a.east) (s8.west) to[ll] (s8b.east) (s8.west) to[ll] (s8c.east);
    \draw[link] (s9.west) to[ll] (s9a.east) (s9.west) to[ll] (s9b.east);
    \draw[link] (s9a.west) to[ll] (s9a1.east) (s9a.west) to[ll] (s9a2.east) (s9a.west) to[ll] (s9a3.east)
        (s9a.west) to[ll] (s9a4.east) (s9a.west) to[ll] (s9a5.east);
    \draw[link] (s9b.west) to[ll] (s9b1.east) (s9b.west) to[ll] (s9b2.east) (s9b.west) to[ll] (s9b3.east);
    \draw[link] (s10.west) to[ll] (s10a.east) (s10.west) to[ll] (s10b.east) (s10.west) to[ll] (s10c.east)
        (s10.west) to[ll] (s10d.east);

    % 第5篇 links
    \draw[link] (e.east) to[rl] (e1.west) (e.east) to[rl] (e2.west) (e.east) to[rl] (e3.west)
        (e.east) to[rl] (e4.west) (e.east) to[rl] (e5.west);
    \draw[link] (e1.east) to[rl] (e1a.west) (e1.east) to[rl] (e1b.west) (e1.east) to[rl] (e1c.west)
        (e1.east) to[rl] (e1d.west) (e1.east) to[rl] (e1e.west) (e1.east) to[rl] (e1f.west)
        (e1.east) to[rl] (e1g.west);
    \draw[link] (e1a.east) to[rl] (e1a1.west) (e1a.east) to[rl] (e1a2.west) (e1a.east) to[rl] (e1a3.west);
    \draw[link] (e1b.east) to[rl] (e1b1.west) (e1b.east) to[rl] (e1b2.west) (e1b.east) to[rl] (e1b3.west);
    \draw[link] (e1c.east) to[rl] (e1c1.west) (e1c.east) to[rl] (e1c2.west) (e1c.east) to[rl] (e1c3.west);
    \draw[link] (e1c3.east) to[rl] (e1c3x.west);
    \draw[link] (e1e.east) to[rl] (e1e1.west) (e1e.east) to[rl] (e1e2.west);
    \draw[link] (e1g.east) to[rl] (e1g1.west) (e1g.east) to[rl] (e1g2.west);
\end{tikzpicture}
\end{document}
